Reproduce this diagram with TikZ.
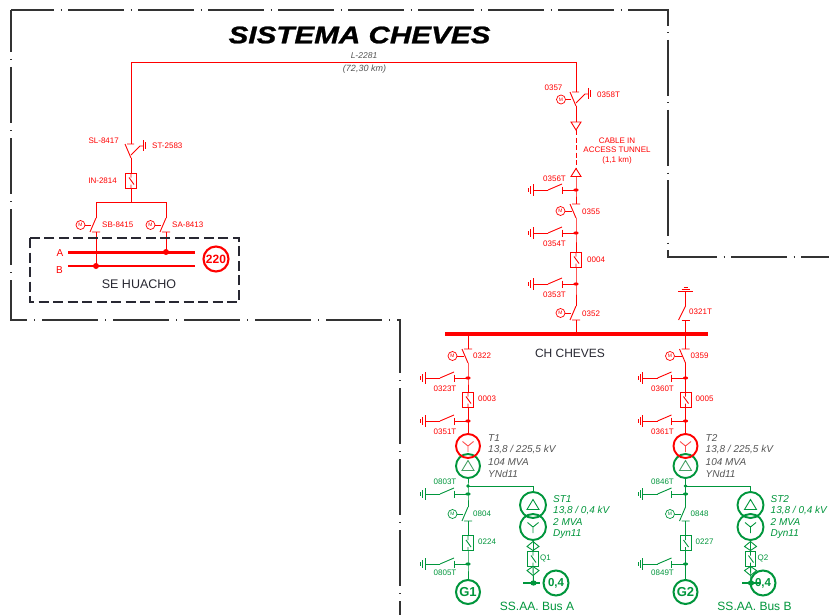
\documentclass[tikz,border=0pt]{standalone}
\usepackage{fontspec}
\setmainfont{Liberation Sans}
\newfontfamily\ttlfont[BoldItalicFeatures={FakeBold=1}]{Liberation Sans}
\definecolor{cr}{RGB}{255,0,0}
\definecolor{cg}{RGB}{0,150,60}
\definecolor{cgt}{RGB}{70,160,100}
\definecolor{cdk}{RGB}{40,40,50}
\definecolor{cgy}{RGB}{85,85,85}
\newcommand{\fs}[1]{\fontsize{#1}{#1}\selectfont}
\tikzset{
  wire/.style={line width=0.9pt},
  lbl/.style={inner sep=0pt,font=\fs{8}},
  spec/.style={inner sep=0pt,anchor=west,font=\fs{10}\itshape},
  ring/.style={draw,circle,line width=1.9pt,minimum size=24pt,inner sep=0pt},
  mot/.style={draw,circle,line width=0.7pt,minimum size=9pt,inner sep=0pt,font=\fs{5}},
  brk/.style={draw,rectangle,line width=0.9pt,minimum width=11pt,minimum height=15pt,inner sep=0pt},
  pics/earthsw/.style={code={
    \coordinate (-j) at (0,0);
    \fill (0,0) ellipse (2.6 and 1.6);
    \draw[wire] (0,0) -- (-14,0) (-14,-3.5) -- (-14,3.5);
    \draw[wire] (-28,0) -- (-14,-6);
    \draw[wire] (-28,0) -- (-43,0);
    \draw[wire] (-43,-6) -- (-43,6) (-45.5,-4) -- (-45.5,4) (-47.5,-2) -- (-47.5,2);
  }},
  pics/swbelow/.style={code={
    \coordinate (-top) at (0,0);
    \coordinate (-bot) at (0,14);
    \draw[wire] (0,0) -- (-6,14) (-4,14) -- (4,14);
    \draw[wire,line width=0.8pt] (-11,7) -- (-5,7);
    \node[mot] (-m) at (-15.5,7) {M};
  }},
  pics/swabove/.style={code={
    \coordinate (-top) at (0,0);
    \coordinate (-bot) at (0,14);
    \draw[wire] (-6,0) -- (0,14) (-4,0) -- (4,0);
    \draw[wire,line width=0.8pt] (-11,7) -- (-4,7);
    \node[mot] (-m) at (-15.5,7) {M};
  }},
  pics/lineearth/.style={code={
    \coordinate (-top) at (0,0);
    \coordinate (-bot) at (0,14);
    \draw[wire] (-6,0) -- (0,14) (-4,0) -- (3,0);
    \draw[wire] (0,11) -- (9,2) -- (12,2);
    \draw[wire] (12,-4) -- (12,7);
    \draw[wire] (14,-2) -- (14,5);
  }},
  pics/breaker/.style={code={
    \node[brk] (-box) at (0,0) {};
    \draw[wire] (0,-7.5) -- (0,-3) (-2,-3) -- (3,4) (0,4) -- (0,7.5);
  }},
  pics/qbreaker/.style={code={
    \node[brk,minimum width=10.5pt] (-box) at (0,0) {};
    \draw[wire] (0,-7.5) -- (0,-3) (-2,-3) -- (3,4) (0,4) -- (0,7.5);
    \draw[wire] (0,-17) -- (6,-12) -- (0,-8) -- (-6,-12) -- cycle;
    \draw[wire] (0,17) -- (6,12) -- (0,8) -- (-6,12) -- cycle;
  }},
  pics/ywye/.style={code={
    \draw[wire] (0,0) -- (-5.5,-4.5) (0,0) -- (5.5,-4.5) (0,0) -- (0,6);
  }},
  pics/delta/.style={code={
    \draw[wire] (0,-5.5) -- (6,4.5) -- (-6,4.5) -- cycle;
  }},
  pics/cablehead/.style={code={
    \draw[wire] (-5,-4) -- (5,-4) -- (0,4) -- cycle;
  }},
  pics/cableheadup/.style={code={
    \draw[wire] (-5,4) -- (5,4) -- (0,-4) -- cycle;
  }},
}
\newcommand{\feedertop}[7]{%
\begin{scope}[xshift=#2pt,color=cr]
  \coordinate (#1bus) at (0,334);
  \pic (#1sw) at (0,349) {swabove};
  \pic (#1ea) at (0,378) {earthsw};
  \pic (#1br) at (0,399.5) {breaker};
  \pic (#1eb) at (0,421) {earthsw};
  \draw[wire] (#1bus) -- (#1sw-top);
  \draw[wire] (#1sw-bot) -- (#1ea-j) -- (#1br-box.north);
  \draw[wire] (#1br-box.south) -- (#1eb-j);
  \node[lbl,anchor=west] (#1l1) at (5,356) {#3};
  \node[lbl] (#1l2) at (-23,388.5) {#4};
  \node[lbl,anchor=west] (#1l3) at (10,398.5) {#5};
  \node[lbl] (#1l4) at (-23,431.5) {#6};
  \node[spec,color=cgy] (#1t1) at (20,438.5) {#7};
  \node[spec,color=cgy] (#1t2) at (20,450) {13,8 / 225,5 kV};
  \node[spec,color=cgy] (#1t3) at (20,462) {104 MVA};
  \node[spec,color=cgy] (#1t4) at (20,474) {YNd11};
\end{scope}}
\newcommand{\feederbot}[7]{%
\begin{scope}[xshift=#2pt,color=cg]
  \node[ring,color=cg] (#1low) at (0,466) {};
  \pic[color=cgt] at (0,466) {delta};
  \node[ring,color=cr] (#1up) at (0,446) {};
  \pic[color=cr!70] at (0,446) {ywye};
  \draw[wire,color=cr] (#1eb-j) -- (#1up.north);
  \coordinate (#1j) at (0,486);
  \fill (#1j) circle (1.8);
  \pic (#1ec) at (0,494) {earthsw};
  \pic (#1sw2) at (0,507) {swbelow};
  \pic (#1br2) at (0,543) {breaker};
  \pic (#1ed) at (0,564) {earthsw};
  \node[ring,line width=2pt,font=\fs{13}\bfseries] (#1g) at (0,592) {#7};
  \draw[wire] (#1low.south) -- (#1j) -- (#1ec-j) -- (#1sw2-top);
  \draw[wire] (#1sw2-bot) -- (#1br2-box.north);
  \draw[wire] (#1br2-box.south) -- (#1ed-j) -- (#1g.north);
  \node[lbl] (#1l5) at (-23,481.5) {#3};
  \node[lbl,anchor=west] (#1l6) at (5,514) {#4};
  \node[lbl,anchor=west] (#1l7) at (10,542) {#5};
  \node[lbl] (#1l8) at (-23,573) {#6};
\end{scope}}
\newcommand{\auxtrafo}[8]{%
\begin{scope}[xshift=#2pt,color=cg]
  \node[ring,minimum size=26pt] (#1sta) at (65,505) {};
  \node[ring,minimum size=26pt] (#1stb) at (65,527) {};
  \pic at (65,505) {delta};
  \pic at (65,527) {ywye};
  \draw[wire] (#1j) -- (65,486) -- (#1sta.north);
  \pic (#1q) at (65,558.5) {qbreaker};
  \coordinate (#1bb) at (#7,583);
  \coordinate (#1be) at (#8,583);
  \coordinate (#1bd) at (65.5,583);
  \draw[wire] (#1stb.south) -- (#1q-box.north);
  \draw[wire] (#1q-box.south) -- (#1bd);
  \node[ring,line width=2pt,minimum size=25pt,font=\fs{11.5}\bfseries] (#1c4) at (#6,583) {0,4};
  \draw[line width=2pt] (#1bb) -- (#1be);
  \fill (#1bd) ellipse (3.2 and 2.6);
  \node[spec] (#1s1) at (85,499) {#3};
  \node[spec] (#1s2) at (85,511) {13,8 / 0,4 kV};
  \node[spec] (#1s3) at (85,522.5) {2 MVA};
  \node[spec] (#1s4) at (85,534) {Dyn11};
  \node[lbl,anchor=west] (#1s5) at (72,558.5) {#4};
  \node[inner sep=0pt,font=\fs{12}] (#1s6) at (69,606) {#5};
\end{scope}}
\begin{document}
\begin{tikzpicture}[x=1pt,y=-1pt]
\useasboundingbox[fill=white] (0,0) rectangle (829,615);
% outer boundary
\coordinate (fA) at (11,10);
\coordinate (fB) at (668,10);
\coordinate (fC) at (668,257);
\coordinate (fD) at (829,257);
\coordinate (fE) at (11,320);
\coordinate (fF) at (400,320);
\coordinate (fG) at (400,615);
\draw[black!80,line width=1.1pt,dash pattern=on 56pt off 6.5pt on 1pt off 6.5pt,dash phase=13pt] (fA) -- (fB) -- (fC) -- (fD);
\draw[black!80,line width=1.1pt,dash pattern=on 56pt off 7pt on 1pt off 7pt,dash phase=14pt] (fA) -- (fE) -- (fF) -- (fG);
% title
\node[inner sep=0pt,xscale=1.235,font=\ttlfont\fs{24}\bfseries\itshape] (title) at (359.5,35) {SISTEMA CHEVES};
\node[inner sep=0pt,color=cgy,font=\fs{8.5}\itshape] (lname) at (364,56) {L-2281};
\node[inner sep=0pt,color=cgy,font=\fs{9}\itshape] (llen) at (364.5,69) {(72,30 km)};
% line
\begin{scope}[color=cr]
\coordinate (lnA) at (131,62);
\coordinate (lnB) at (576,62);
\pic (sl) at (131,144) {lineearth};
\pic (in) at (131,180.5) {breaker};
\coordinate (hj) at (131,202);
\coordinate (hl) at (96,202);
\coordinate (hr) at (166,202);
\pic (sb) at (96,218) {swbelow};
\pic (sa) at (166,218) {swbelow};
\coordinate (busAa) at (68,252);
\coordinate (busAb) at (195,252);
\coordinate (busBa) at (68,266);
\coordinate (busBb) at (195,266);
\coordinate (busAj) at (166,252);
\coordinate (busBj) at (96,266);
\draw[wire] (sl-top) -- (lnA) -- (lnB);
\draw[wire] (sl-bot) -- (in-box.north);
\draw[wire] (in-box.south) -- (hj);
\draw[wire] (sb-top) -- (hl) -- (hr) -- (sa-top);
\draw[wire] (sb-bot) -- (busBj);
\draw[wire] (sa-bot) -- (busAj);
\draw[line width=3pt] (busAa) -- (busAb);
\draw[line width=2.4pt] (busBa) -- (busBb);
\fill (busAj) circle (3);
\fill (busBj) circle (3);
\node[ring,line width=2.1pt,minimum size=25pt,font=\fs{12}\bfseries] (k220) at (216,259) {220};
\node[inner sep=0pt,font=\fs{10}] (la) at (60,253) {A};
\node[inner sep=0pt,font=\fs{10}] (lb) at (59.5,270) {B};
\node[lbl,anchor=east] (t1) at (119,141) {SL-8417};
\node[lbl,anchor=west] (t2) at (152,145.5) {ST-2583};
\node[lbl,anchor=east] (t3) at (117,180.5) {IN-2814};
\node[lbl,anchor=west] (t4) at (102,224.5) {SB-8415};
\node[lbl,anchor=west] (t5) at (172,224.5) {SA-8413};
% right circuit
\pic (q57) at (576,92) {lineearth};
\node[mot] (q57m) at (561,99.5) {M};
\draw[wire,line width=0.8pt] (q57m) -- (570.5,99.5);
\pic (chA) at (576,126) {cablehead};
\pic (chB) at (576,172.5) {cableheadup};
\coordinate (chAb) at (576,130);
\coordinate (chBt) at (576,168.5);
\pic (e56) at (576,190) {earthsw};
\pic (s55) at (576,204) {swabove};
\pic (e54) at (576,233) {earthsw};
\pic (b04) at (576,259.5) {breaker};
\pic (e53) at (576,284) {earthsw};
\pic (s52) at (576,306) {swbelow};
\coordinate (busC) at (576,334);
\draw[wire] (lnB) -- (q57-top);
\draw[wire] (q57-bot) -- (576,122);
\draw[wire,dash pattern=on 5pt off 2.5pt] (chAb) -- (chBt);
\draw[wire] (576,176.5) -- (e56-j) -- (s55-top);
\draw[wire] (s55-bot) -- (e54-j) -- (b04-box.north);
\draw[wire] (b04-box.south) -- (e53-j) -- (s52-top);
\draw[wire] (s52-bot) -- (busC);
\node[lbl] (t6) at (553.5,88) {0357};
\node[lbl,anchor=west] (t7) at (597,94.5) {0358T};
\node[lbl,align=center] (t8) at (617,151) {CABLE IN\\[1.5pt]ACCESS TUNNEL\\[1.5pt](1,1 km)};
\node[lbl] (t9) at (554.5,179) {0356T};
\node[lbl,anchor=west] (t10) at (582,212) {0355};
\node[lbl] (t11) at (554.5,244) {0354T};
\node[lbl,anchor=west] (t12) at (587,260) {0004};
\node[lbl] (t13) at (554.5,295) {0353T};
\node[lbl,anchor=west] (t14) at (582,314) {0352};
% main bus
\coordinate (mbA) at (445,334);
\coordinate (mbB) at (708,334);
\draw[line width=3.4pt] (mbA) -- (mbB);
% 0321T
\coordinate (e21) at (685.5,291);
\coordinate (e21l) at (678,291);
\coordinate (e21r) at (693,291);
\coordinate (b21) at (685.5,320);
\coordinate (m21) at (685.5,334);
\coordinate (c21) at (685.5,306);
\draw[wire] (e21l) -- (e21r) (681.5,289) -- (689.5,289) (683.5,287) -- (687.5,287);
\draw[wire] (e21) -- (c21) -- (678.5,320);
\draw[wire] (681.5,320) -- (690,320);
\draw[wire] (b21) -- (m21);
\node[lbl,anchor=west] (t15) at (689,312) {0321T};
\end{scope}
\draw[dash pattern=on 10pt off 4.5pt,line width=1.3pt,color=cdk] (30,238) rectangle (239,302);
\node[inner sep=0pt,font=\fs{12.5},color=cdk] (sehu) at (139,284) {SE HUACHO};
\node[inner sep=0pt,font=\fs{12},color=cdk] (chch) at (570,353) {CH CHEVES};
% feeders
\feedertop{a}{468}{0322}{0323T}{0003}{0351T}{T1}
\feedertop{b}{685.5}{0359}{0360T}{0005}{0361T}{T2}
\feederbot{a}{468}{0803T}{0804}{0224}{0805T}{G1}
\feederbot{b}{685.5}{0846T}{0848}{0227}{0849T}{G2}
\auxtrafo{a}{468}{ST1}{Q1}{SS.AA. Bus A}{88}{55}{72}
\auxtrafo{b}{685.5}{ST2}{Q2}{SS.AA. Bus B}{77.5}{56.5}{75}
\end{tikzpicture}
\end{document}
